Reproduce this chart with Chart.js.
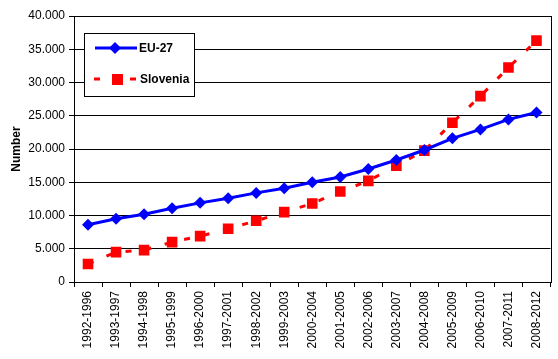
<!DOCTYPE html>
<html><head><meta charset="utf-8">
<script src="https://cdn.jsdelivr.net/npm/chart.js@4/dist/chart.umd.min.js"></script>
<style>html,body{margin:0;padding:0;background:#fff}#wrap{width:558px;height:359px}</style>
</head><body><div id="wrap"><canvas id="c" width="558" height="359"></canvas></div>
<script>
const categories = ["1992-1996","1993-1997","1994-1998","1995-1999","1996-2000","1997-2001","1998-2002","1999-2003","2000-2004","2001-2005","2002-2006","2003-2007","2004-2008","2005-2009","2006-2010","2007-2011","2008-2012"];
const eu27 = [8600,9500,10200,11100,11900,12600,13400,14100,15000,15800,17000,18350,19850,21600,22950,24450,25500];
const slovenia = [2700,4500,4800,6000,6900,8000,9200,10500,11800,13600,15200,17500,19750,23950,27950,32250,36300];
const seriesNames = ["EU-27","Slovenia"];
const yTicks = [0,5000,10000,15000,20000,25000,30000,35000,40000];
const yTitle = "Number";

const FONT = "'Liberation Sans', Arial, sans-serif";

const frame = {
  id:'frame',
  afterDatasetsDraw(chart){
    const {ctx, chartArea:a} = chart;
    ctx.save();
    ctx.strokeStyle='#000'; ctx.lineWidth=1;
    ctx.strokeRect(Math.round(a.left)+0.5, Math.round(a.top)+0.5, Math.round(a.right-a.left), Math.round(a.bottom-a.top));
    // legend box
    const bx = Math.round(a.left)+10, by = Math.round(a.top)+17, bw = 110, bh = 63;
    ctx.fillStyle='#fff'; ctx.fillRect(bx,by,bw,bh);
    ctx.strokeRect(bx+0.5,by+0.5,bw,bh);
    ctx.font = "bold 12px " + FONT;
    ctx.textBaseline='middle';
    // EU-27
    let y1 = by+15;
    ctx.strokeStyle='#0000ff'; ctx.lineWidth=3; ctx.setLineDash([]);
    ctx.beginPath(); ctx.moveTo(bx+11,y1); ctx.lineTo(bx+53,y1); ctx.stroke();
    ctx.fillStyle='#0000ff';
    ctx.beginPath(); ctx.moveTo(bx+31,y1-6); ctx.lineTo(bx+37,y1); ctx.lineTo(bx+31,y1+6); ctx.lineTo(bx+25,y1); ctx.closePath(); ctx.fill();
    ctx.fillStyle='#000'; ctx.fillText(seriesNames[0], bx+55, y1+1);
    // Slovenia
    let y2 = by+46;
    ctx.strokeStyle='#ff0000'; ctx.lineWidth=3;
    ctx.beginPath(); ctx.moveTo(bx+10,y2); ctx.lineTo(bx+16,y2); ctx.moveTo(bx+46,y2); ctx.lineTo(bx+52,y2); ctx.stroke();
    ctx.fillStyle='#ff0000'; ctx.fillRect(bx+28,y2-5,11,11);
    ctx.fillStyle='#000'; ctx.fillText(seriesNames[1], bx+56, y2+1);
    ctx.restore();
  }
};

new Chart(document.getElementById('c'), {
  type:'line',
  data:{
    labels: categories,
    datasets:[
      {label:seriesNames[1], data:slovenia, borderColor:'#ff0000', backgroundColor:'#ff0000', borderWidth:3, borderDash:[6,14], pointStyle:'rect', pointRadius:7.5, pointBorderWidth:0, tension:0, order:2},
      {label:seriesNames[0], data:eu27, borderColor:'#0000ff', backgroundColor:'#0000ff', borderWidth:3, pointStyle:'rectRot', pointRadius:6, pointBorderWidth:0, tension:0, order:1}
    ]
  },
  options:{
    responsive:false, animation:false,
    layout:{padding:{top:16,right:5,left:0,bottom:0}},
    plugins:{legend:{display:false}, tooltip:{enabled:false}},
    scales:{
      x:{
        offset:true,
        grid:{display:true, drawOnChartArea:false, drawTicks:true, tickLength:5, color:'#000', offset:true},
        border:{display:true,color:'#000'},
        ticks:{color:'#000', font:{family:FONT,size:12}, minRotation:90, maxRotation:90, autoSkip:false, padding:4},
        afterFit(s){ s.height = 77; }
      },
      y:{
        min:0,max:40000,
        afterBuildTicks(s){ s.ticks = yTicks.map(v=>({value:v})); },
        grid:{color:'#000', tickLength:5, drawTicks:true},
        border:{display:true,color:'#000'},
        ticks:{color:'#000', font:{family:FONT,size:12}, padding:4, callback:v=>v.toLocaleString('de-DE')},
        title:{display:true, text:yTitle, color:'#000', font:{family:FONT,size:12,weight:'bold'}, padding:{top:9,bottom:4}},
        afterFit(s){ s.width = 74; }
      }
    }
  },
  plugins:[frame]
});
</script></body></html>
